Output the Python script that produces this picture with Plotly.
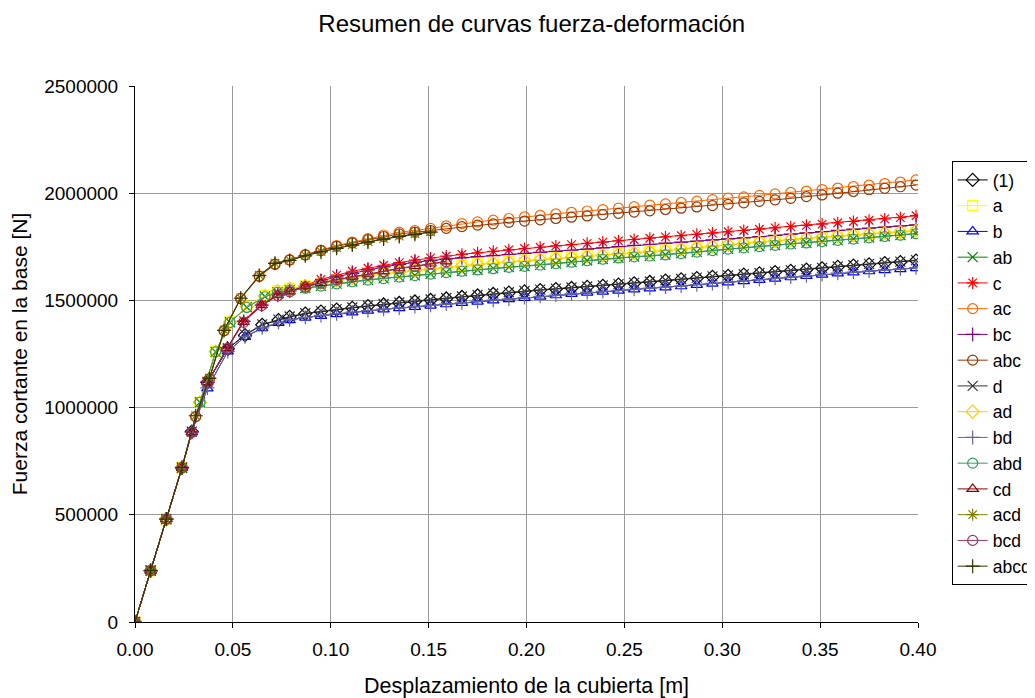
import plotly.graph_objects as go

# displacement steps (m) for each family of curves
x_top = [0, 0.008, 0.016, 0.024, 0.031, 0.038, 0.0455, 0.054, 0.0635, 0.0715,
         0.079, 0.087, 0.095, 0.103, 0.111, 0.119, 0.127, 0.135, 0.143, 0.151,
         0.159, 0.167, 0.175, 0.183, 0.191, 0.199, 0.207, 0.215, 0.223, 0.231,
         0.239, 0.247, 0.255, 0.263, 0.271, 0.279, 0.287, 0.295, 0.303, 0.311,
         0.319, 0.327, 0.335, 0.343, 0.351, 0.359, 0.367, 0.375, 0.383, 0.391, 0.399]
x_red = [0, 0.008, 0.016, 0.024, 0.029, 0.037, 0.0472, 0.0555, 0.0647, 0.073,
         0.079, 0.087, 0.095, 0.103, 0.111, 0.119, 0.127, 0.135, 0.143, 0.151,
         0.159, 0.167, 0.175, 0.183, 0.191, 0.199, 0.207, 0.215, 0.223, 0.231,
         0.239, 0.247, 0.255, 0.263, 0.271, 0.279, 0.287, 0.295, 0.303, 0.311,
         0.319, 0.327, 0.335, 0.343, 0.351, 0.359, 0.367, 0.375, 0.383, 0.391, 0.399]
x_yg = [0, 0.008, 0.016, 0.024, 0.0332, 0.0412, 0.0485, 0.0571, 0.0664, 0.0728,
        0.079, 0.087, 0.095, 0.103, 0.111, 0.119, 0.127, 0.135, 0.143, 0.151,
        0.159, 0.167, 0.175, 0.183, 0.191, 0.199, 0.207, 0.215, 0.223, 0.231,
        0.239, 0.247, 0.255, 0.263, 0.271, 0.279, 0.287, 0.295, 0.303, 0.311,
        0.319, 0.327, 0.335, 0.343, 0.351, 0.359, 0.367, 0.375, 0.383, 0.391, 0.399]
x_bot = [0, 0.008, 0.016, 0.024, 0.029, 0.037, 0.0474, 0.0562, 0.065, 0.0733,
         0.079, 0.087, 0.095, 0.103, 0.111, 0.119, 0.127, 0.135, 0.143, 0.151,
         0.159, 0.167, 0.175, 0.183, 0.191, 0.199, 0.207, 0.215, 0.223, 0.231,
         0.239, 0.247, 0.255, 0.263, 0.271, 0.279, 0.287, 0.295, 0.303, 0.311,
         0.319, 0.327, 0.335, 0.343, 0.351, 0.359, 0.367, 0.375, 0.383, 0.391, 0.399]

# base shear, in thousands of N
v_1 = [0, 240, 480, 720, 888, 1118, 1274, 1338, 1386, 1408,
       1423, 1438, 1448, 1457, 1465, 1473, 1481, 1488, 1495, 1502,
       1509, 1516, 1523, 1530, 1536, 1542, 1548, 1553, 1558, 1563,
       1568, 1574, 1580, 1586, 1592, 1598, 1604, 1610, 1615, 1620,
       1626, 1632, 1638, 1644, 1650, 1656, 1662, 1668, 1674, 1679, 1686]
v_a = [0, 240, 480, 720, 1025, 1262, 1400, 1472, 1522, 1545,
       1556, 1568, 1582, 1596, 1608, 1618, 1626, 1634, 1642, 1649,
       1656, 1663, 1670, 1676, 1682, 1688, 1693, 1698, 1703, 1708,
       1713, 1718, 1723, 1729, 1735, 1741, 1748, 1755, 1762, 1768,
       1774, 1780, 1786, 1791, 1797, 1802, 1807, 1812, 1817, 1822, 1828]
v_b = [0, 240, 480, 720, 885, 1090, 1262, 1330, 1370, 1395,
       1408, 1420, 1428, 1436, 1444, 1452, 1458, 1464, 1470, 1476,
       1482, 1488, 1494, 1500, 1506, 1512, 1518, 1524, 1530, 1536,
       1541, 1546, 1551, 1556, 1561, 1566, 1572, 1578, 1584, 1590,
       1596, 1602, 1608, 1614, 1620, 1626, 1631, 1636, 1641, 1646, 1651]
v_ab = [0, 240, 480, 720, 1025, 1260, 1398, 1468, 1518, 1538,
        1548, 1558, 1568, 1578, 1588, 1596, 1603, 1610, 1617, 1624,
        1631, 1637, 1643, 1649, 1655, 1660, 1666, 1672, 1679, 1686,
        1693, 1699, 1704, 1708, 1713, 1719, 1726, 1733, 1740, 1746,
        1752, 1758, 1764, 1769, 1775, 1781, 1787, 1793, 1799, 1805, 1812]
v_c = [0, 240, 480, 720, 885, 1118, 1280, 1405, 1482, 1528,
       1548, 1570, 1598, 1618, 1636, 1650, 1664, 1676, 1688, 1698,
       1707, 1715, 1722, 1729, 1736, 1742, 1748, 1754, 1760, 1766,
       1772, 1778, 1784, 1790, 1796, 1802, 1808, 1814, 1820, 1826,
       1832, 1838, 1844, 1850, 1856, 1862, 1868, 1874, 1880, 1886, 1895]
v_ac = [0, 240, 480, 720, 958, 1135, 1360, 1510, 1614, 1670,
        1690, 1714, 1735, 1756, 1772, 1788, 1805, 1818, 1826, 1836,
        1848, 1858, 1866, 1874, 1882, 1890, 1897, 1904, 1911, 1917,
        1923, 1930, 1937, 1944, 1950, 1957, 1963, 1970, 1977, 1983,
        1990, 1997, 2004, 2010, 2017, 2024, 2031, 2038, 2045, 2052, 2062]
v_bc = [0, 240, 480, 720, 885, 1118, 1278, 1402, 1478, 1524,
        1544, 1565, 1590, 1610, 1626, 1642, 1656, 1668, 1678, 1686,
        1693, 1699, 1704, 1709, 1714, 1719, 1724, 1729, 1734, 1739,
        1745, 1751, 1757, 1762, 1767, 1772, 1777, 1782, 1787, 1792,
        1797, 1803, 1809, 1815, 1821, 1827, 1832, 1837, 1842, 1847, 1852]
v_abc = [0, 240, 480, 720, 958, 1133, 1358, 1508, 1612, 1668,
         1688, 1712, 1732, 1752, 1768, 1783, 1798, 1810, 1818, 1826,
         1836, 1844, 1851, 1857, 1864, 1870, 1876, 1882, 1888, 1894,
         1900, 1906, 1912, 1918, 1924, 1930, 1936, 1942, 1948, 1955,
         1962, 1969, 1976, 1984, 1992, 2000, 2008, 2016, 2023, 2030, 2038]
v_d = [0, 240, 480, 720, 888, 1120, 1275, 1340, 1388, 1410,
       1425, 1440, 1450, 1459, 1467, 1475, 1483, 1490, 1497, 1504,
       1511, 1518, 1525, 1532, 1538, 1544, 1550, 1555, 1560, 1565,
       1570, 1576, 1582, 1588, 1594, 1600, 1606, 1612, 1617, 1622,
       1628, 1634, 1640, 1646, 1652, 1658, 1664, 1670, 1676, 1681, 1688]
v_ad = [0, 240, 480, 720, 1025, 1261, 1399, 1470, 1520, 1543,
        1554, 1566, 1580, 1593, 1605, 1615, 1623, 1631, 1639, 1646,
        1653, 1660, 1667, 1673, 1679, 1685, 1690, 1695, 1700, 1705,
        1710, 1715, 1720, 1726, 1732, 1738, 1745, 1752, 1759, 1765,
        1771, 1777, 1783, 1788, 1794, 1799, 1804, 1809, 1814, 1819, 1825]
v_bd = [0, 240, 480, 720, 885, 1092, 1262, 1331, 1372, 1397,
        1410, 1421, 1430, 1438, 1446, 1453, 1459, 1465, 1471, 1477,
        1483, 1489, 1495, 1501, 1507, 1513, 1519, 1525, 1531, 1537,
        1542, 1547, 1552, 1557, 1562, 1567, 1573, 1579, 1585, 1591,
        1597, 1603, 1609, 1615, 1621, 1627, 1632, 1637, 1642, 1647, 1652]
v_abd = [0, 240, 480, 720, 1025, 1260, 1397, 1467, 1517, 1537,
         1547, 1557, 1567, 1577, 1587, 1595, 1602, 1609, 1616, 1623,
         1630, 1636, 1642, 1648, 1654, 1659, 1665, 1671, 1678, 1685,
         1692, 1698, 1703, 1707, 1712, 1718, 1725, 1732, 1739, 1745,
         1751, 1757, 1763, 1768, 1774, 1780, 1786, 1792, 1798, 1804, 1811]
v_cd = [0, 240, 480, 720, 885, 1118, 1277, 1400, 1478, 1524,
        1542, 1566, 1582, 1597, 1611, 1622, 1636, 1650, 1660, 1672, 1682]
v_acd = [0, 240, 480, 720, 962, 1138, 1362, 1512, 1618, 1674,
         1688, 1710, 1728, 1745, 1760, 1774, 1788, 1800, 1810, 1820]
v_bcd = [0, 240, 480, 720, 885, 1116, 1276, 1398, 1476, 1522,
         1540, 1563, 1580, 1595, 1609, 1620, 1634, 1648, 1658, 1670, 1680]
v_abcd = [0, 240, 480, 720, 962, 1136, 1360, 1510, 1616, 1673,
          1686, 1708, 1726, 1743, 1758, 1772, 1786, 1798, 1808, 1818]

series = [
    ('(1)', x_bot, v_1, '#000000', 'diamond-open'),
    ('a', x_yg, v_a, '#FFFF00', 'square-open'),
    ('b', x_bot, v_b, '#0000FF', 'triangle-up-open'),
    ('ab', x_yg, v_ab, '#008000', 'x-thin-open'),
    ('c', x_red, v_c, '#FF0000', 'asterisk-open'),
    ('ac', x_top, v_ac, '#FF6600', 'circle-open'),
    ('bc', x_red, v_bc, '#800080', 'cross-thin-open'),
    ('abc', x_top, v_abc, '#993300', 'circle-open'),
    ('d', x_bot, v_d, '#333333', 'x-thin-open'),
    ('ad', x_yg, v_ad, '#FFCC00', 'diamond-open'),
    ('bd', x_bot, v_bd, '#666699', 'cross-thin-open'),
    ('abd', x_yg, v_abd, '#339966', 'circle-open'),
    ('cd', x_red, v_cd, '#800000', 'triangle-up-open'),
    ('acd', x_top, v_acd, '#808000', 'asterisk-open'),
    ('bcd', x_red, v_bcd, '#993366', 'circle-open'),
    ('abcd', x_top, v_abcd, '#333300', 'cross-thin-open'),
]

fig = go.Figure()
for name, xs, vs, col, sym in series:
    fig.add_trace(go.Scatter(
        x=xs[:len(vs)], y=[v * 1000 for v in vs],
        mode='lines+markers', name=name,
        line=dict(color=col, width=1),
        marker=dict(symbol=sym, size=10, color=col,
                    line=dict(color=col, width=1.2))))

# the page adds an 8px body margin, so the figure is a bit smaller and shifted
font = 'Liberation Sans, Arial, sans-serif'
fig.update_layout(
    width=1027, height=690,
    paper_bgcolor='white', plot_bgcolor='white',
    font=dict(family=font, size=19, color='black'),
    title=dict(text='Resumen de curvas fuerza-deformación', x=0.51, xanchor='center',
               y=0.978, yanchor='middle', font=dict(size=24)),
    margin=dict(l=127, r=117, t=78, b=76, autoexpand=False),
    showlegend=True,
    legend=dict(x=1.043, y=0.86, xanchor='left', yanchor='top',
                bgcolor='white', bordercolor='black', borderwidth=1,
                font=dict(size=17.5)),
)
fig.update_xaxes(range=[0, 0.4], dtick=0.05, tickformat='.2f',
                 showgrid=True, gridcolor='#9a9a9a', gridwidth=1,
                 showline=True, linecolor='black', linewidth=1,
                 ticks='outside', ticklen=5, tickcolor='black',
                 ticklabelstandoff=5, zeroline=False,
                 title=dict(text='Desplazamiento de la cubierta [m]',
                            font=dict(size=21.5), standoff=20))
fig.update_yaxes(range=[0, 2500000], dtick=500000, tickformat='d',
                 showgrid=True, gridcolor='#9a9a9a', gridwidth=1,
                 showline=True, linecolor='black', linewidth=1,
                 ticks='outside', ticklen=5, tickcolor='black',
                 ticklabelstandoff=7, zeroline=False,
                 title=dict(text='Fuerza cortante en la base [N]',
                            font=dict(size=21), standoff=12))

fig.write_html("out.html")
